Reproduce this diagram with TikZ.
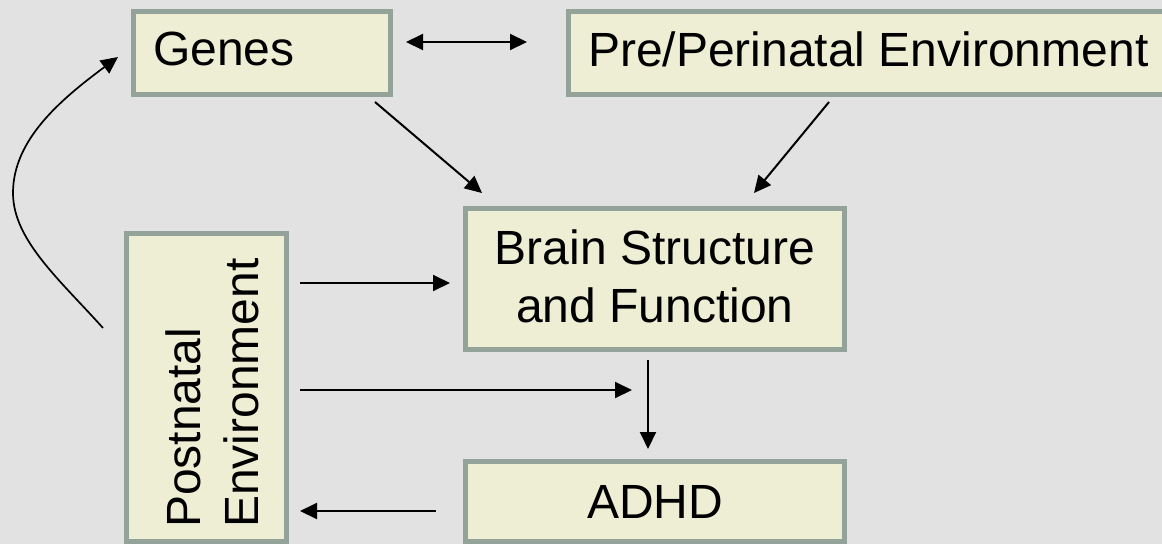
\documentclass[tikz,border=0pt]{standalone}
\usepackage{fontspec}
\setmainfont{Liberation Sans}
\usetikzlibrary{arrows.meta}
\definecolor{bg}{HTML}{E2E2E2}
\definecolor{boxfill}{HTML}{EDEED4}
\definecolor{boxline}{HTML}{94A399}
\begin{document}
\begin{tikzpicture}[x=1pt,y=-1pt,
  box/.style={draw=boxline, fill=boxfill, line width=5pt, rectangle, inner sep=0pt},
  lbl/.style={font=\fontsize{48}{58}\selectfont, inner sep=0pt, text=black},
  conn/.style={line width=2pt, -{Triangle[length=17pt,width=16pt]}},
  dconn/.style={line width=2pt, {Triangle[length=17pt,width=16pt]}-{Triangle[length=17pt,width=16pt]}}]
\useasboundingbox (0,0) rectangle (1162,544);
\fill[bg] (0,0) rectangle (1162,544);
% boxes
\node[box, minimum width=257pt, minimum height=83pt] (genes) at (262,53) {};
\node[box, minimum width=621.5pt, minimum height=83pt] (pre) at (879.25,53) {};
\node[box, minimum width=379pt, minimum height=141pt] (brain) at (655,279) {};
\node[box, minimum width=379pt, minimum height=80pt] (adhd) at (655,501.5) {};
\node[box, minimum width=160pt, minimum height=308pt] (post) at (206.5,387.5) {};
% texts
\node[lbl, anchor=base west] (tgenes) at (153,65) {Genes};
\node[lbl, anchor=base west] (tpre) at (588,66) {Pre/Perinatal Environment};
\node[lbl, anchor=base] (tbrainA) at (655,264) {Brain Structure};
\node[lbl, anchor=base] (tbrainB) at (655,322) {and Function};
\node[lbl, anchor=base] (tadhd) at (655,518) {ADHD};
\node[lbl, anchor=base west, rotate=90] (tpostA) at (200,528) {Postnatal};
\node[lbl, anchor=base west, rotate=90] (tpostB) at (258,528) {Environment};
% connector end points
\coordinate (gpL) at (406,42);
\coordinate (gpR) at (527,42);
\coordinate (gbS) at (375,102);
\coordinate (gbE) at (482,193);
\coordinate (pbS) at (829,102);
\coordinate (pbE) at (754,193);
\coordinate (pbrS) at (300,283);
\coordinate (pbrE) at (450,283);
\coordinate (pmS) at (300,390);
\coordinate (pmE) at (632,390);
\coordinate (baS) at (648,360);
\coordinate (baE) at (648,449);
\coordinate (apS) at (436,511);
\coordinate (apE) at (300,511);
\coordinate (cS) at (103,328);
\coordinate (cM) at (13,193);
\coordinate (cE) at (118,57);
% connectors
\draw[dconn] (gpL) -- (gpR);
\draw[conn] (gbS) -- (gbE);
\draw[conn] (pbS) -- (pbE);
\draw[conn] (pbrS) -- (pbrE);
\draw[conn] (pmS) -- (pmE);
\draw[conn] (baS) -- (baE);
\draw[conn] (apS) -- (apE);
\draw[conn, line width=1.7pt] (cS) .. controls (60,280) and (13,240) .. (cM) .. controls (13,140) and (60,100) .. (cE);
\end{tikzpicture}
\end{document}
